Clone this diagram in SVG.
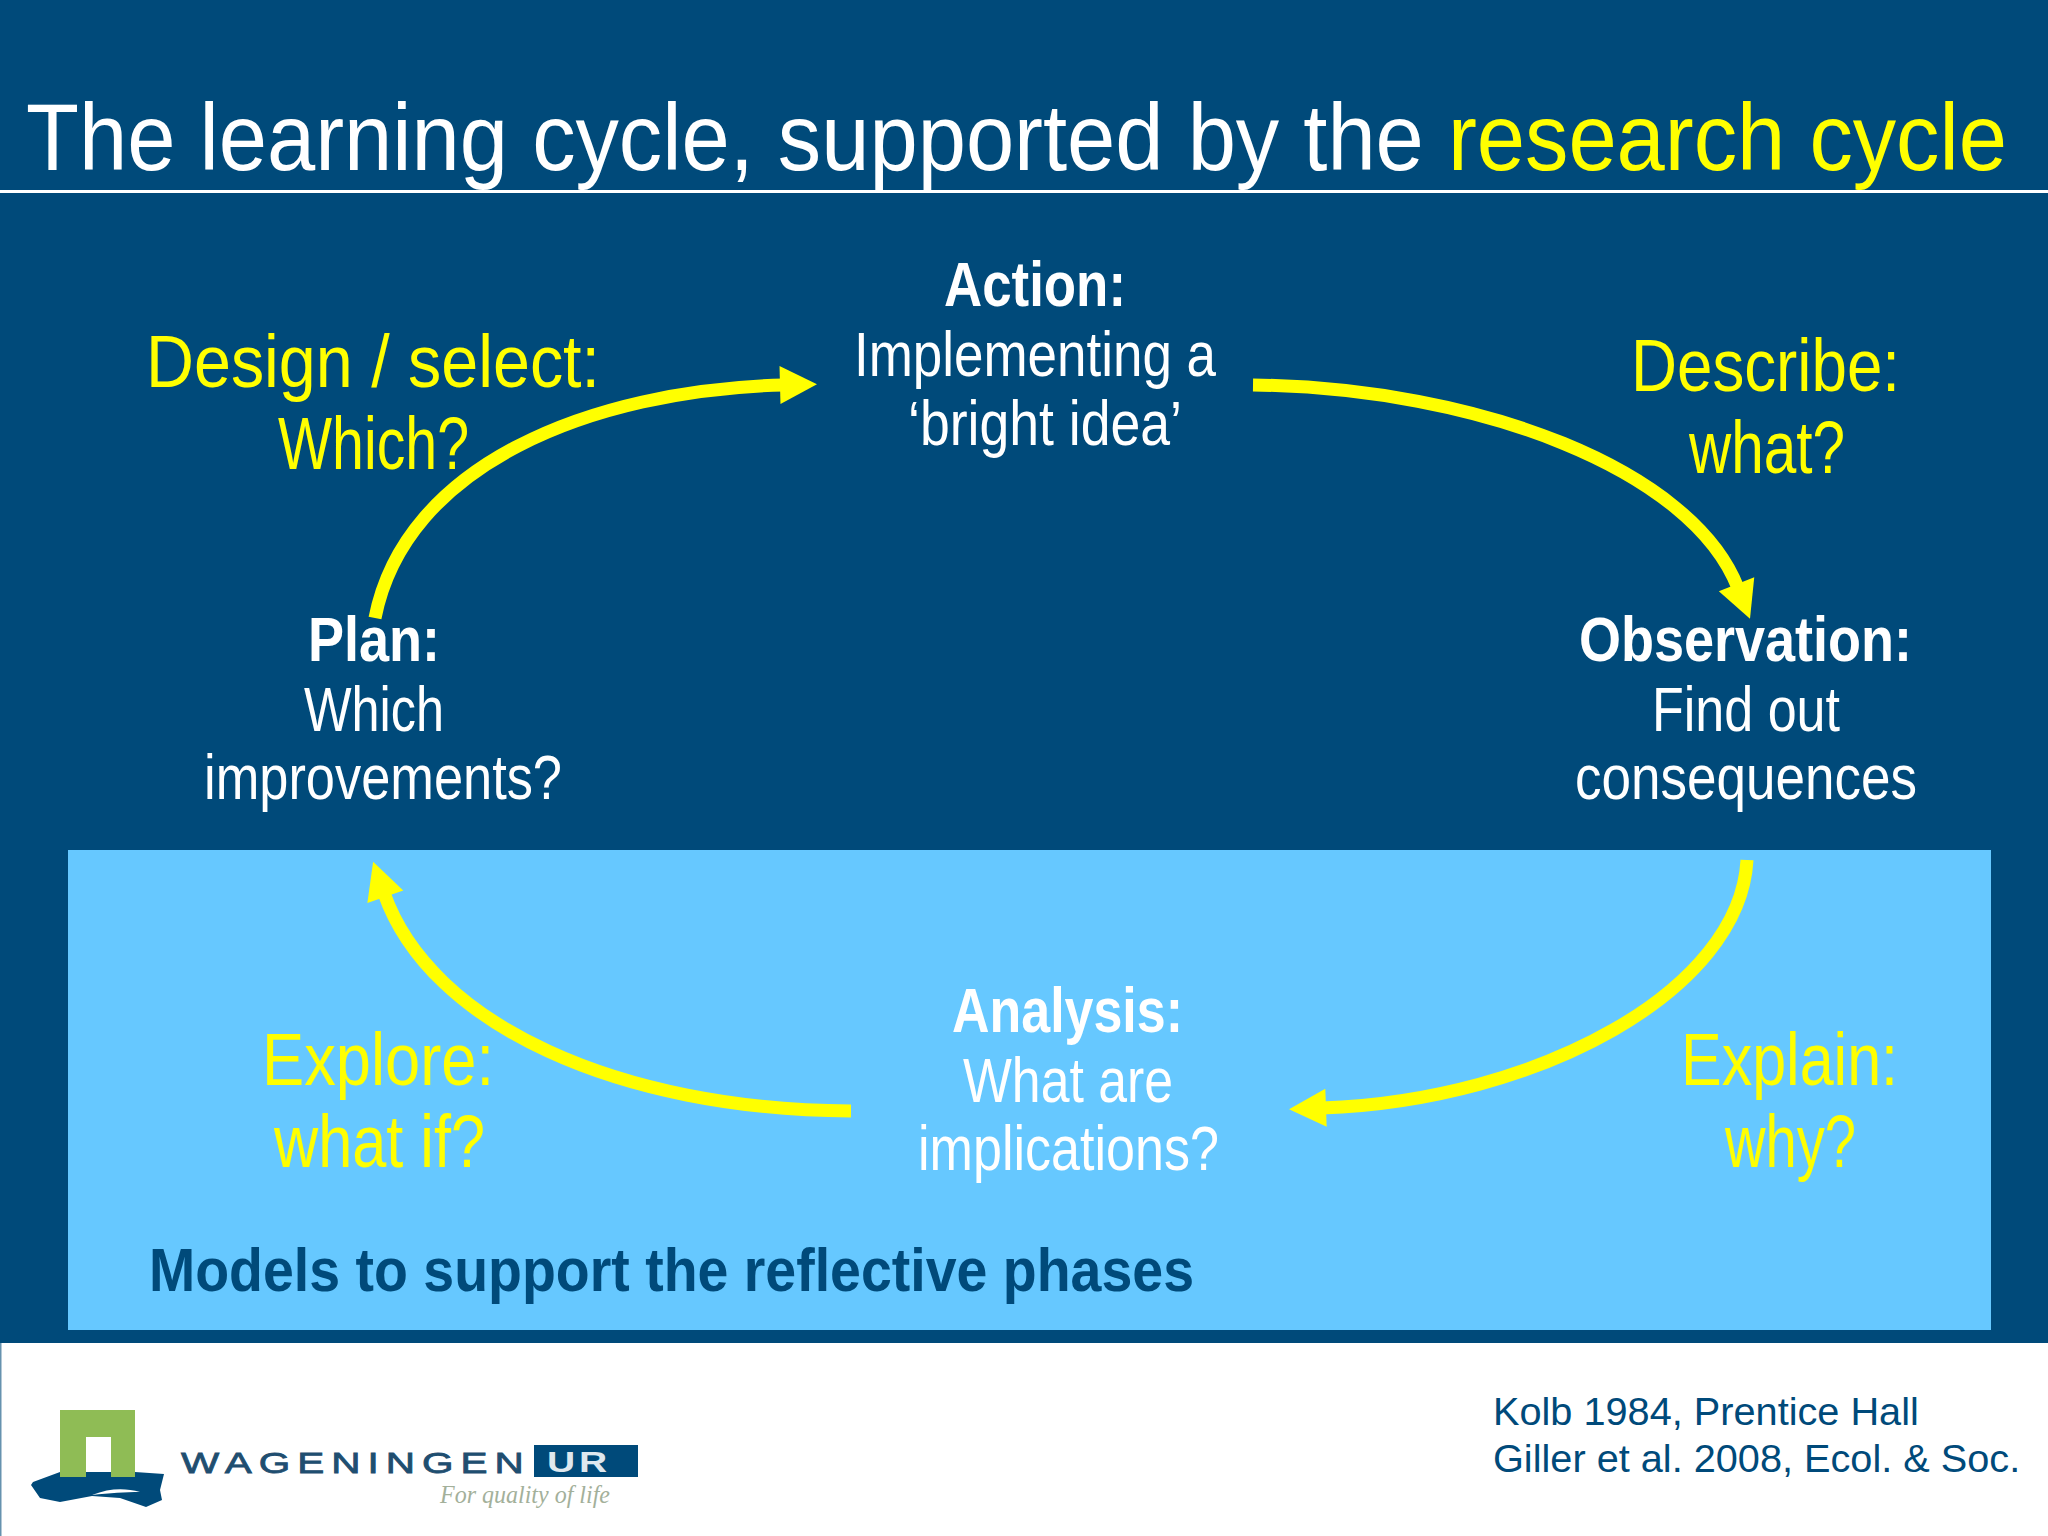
<svg xmlns="http://www.w3.org/2000/svg" width="2048" height="1536" viewBox="0 0 2048 1536">
<style>
text{font-family:"Liberation Sans",Arial,sans-serif}
.w{fill:#fff;font-size:63px}
.b{font-weight:700}
.y{fill:#ffff00;font-size:75px}
.a{fill:none;stroke:#ffff00;stroke-width:13}
</style>
<defs><marker id="h" markerUnits="userSpaceOnUse" markerWidth="40" markerHeight="40" refX="4" refY="19" orient="auto" overflow="visible"><path d="M0 0L37 19L0 38Z" fill="#ffff00"/></marker></defs>
<rect width="2048" height="1536" fill="#004a7a"/>
<rect x="0" y="190" width="2048" height="3" fill="#fff"/>
<rect x="68" y="850" width="1923" height="480" fill="#66c8ff"/>
<rect x="0" y="1343" width="2048" height="193" fill="#fff"/>
<rect x="0" y="1343" width="1.5" height="193" fill="#004a7a" opacity=".6"/>
<text transform="translate(26 170) scale(.9226 1)" font-size="94" fill="#fff">The learning cycle, supported by the <tspan fill="#ffff00">research cycle</tspan></text>
<g id="connectors">
<path class="a" marker-end="url(#h)" d="M375 618C405 465 590 390 784 385"/>
<path class="a" marker-end="url(#h)" d="M1253 385C1480 388 1692 470 1738 588"/>
<path class="a" marker-end="url(#h)" d="M1747 860C1740 990 1540 1100 1322 1108"/>
<path class="a" marker-end="url(#h)" d="M851 1111C620 1110 430 1025 384 893"/>
</g>
<g id="action"><text class="w b" x="944" y="306" textLength="182" lengthAdjust="spacingAndGlyphs">Action:</text><text class="w" x="854" y="376" textLength="362" lengthAdjust="spacingAndGlyphs">Implementing a</text><text class="w" x="908" y="445" textLength="274" lengthAdjust="spacingAndGlyphs">‘bright idea’</text></g>
<g id="plan"><text class="w b" x="308" y="661" textLength="132" lengthAdjust="spacingAndGlyphs">Plan:</text><text class="w" x="304" y="731" textLength="140" lengthAdjust="spacingAndGlyphs">Which</text><text class="w" x="204" y="799" textLength="358" lengthAdjust="spacingAndGlyphs">improvements?</text></g>
<g id="observation"><text class="w b" x="1579" y="661" textLength="333" lengthAdjust="spacingAndGlyphs">Observation:</text><text class="w" x="1652" y="731" textLength="188" lengthAdjust="spacingAndGlyphs">Find out</text><text class="w" x="1575" y="799" textLength="342" lengthAdjust="spacingAndGlyphs">consequences</text></g>
<g id="analysis"><text class="w b" x="952" y="1032" textLength="231" lengthAdjust="spacingAndGlyphs">Analysis:</text><text class="w" x="963" y="1102" textLength="210" lengthAdjust="spacingAndGlyphs">What are</text><text class="w" x="918" y="1170" textLength="301" lengthAdjust="spacingAndGlyphs">implications?</text></g>
<g id="design"><text class="y" x="146" y="387" textLength="454" lengthAdjust="spacingAndGlyphs">Design / select:</text><text class="y" x="278" y="469" textLength="191" lengthAdjust="spacingAndGlyphs">Which?</text></g>
<g id="describe"><text class="y" x="1631" y="391" textLength="269" lengthAdjust="spacingAndGlyphs">Describe:</text><text class="y" x="1689" y="473" textLength="156" lengthAdjust="spacingAndGlyphs">what?</text></g>
<g id="explore"><text class="y" x="262" y="1085" textLength="232" lengthAdjust="spacingAndGlyphs">Explore:</text><text class="y" x="274" y="1167" textLength="211" lengthAdjust="spacingAndGlyphs">what if?</text></g>
<g id="explain"><text class="y" x="1681" y="1085" textLength="217" lengthAdjust="spacingAndGlyphs">Explain:</text><text class="y" x="1725" y="1167" textLength="131" lengthAdjust="spacingAndGlyphs">why?</text></g>
<text class="b" x="149" y="1291" font-size="62" textLength="1045" lengthAdjust="spacingAndGlyphs" fill="#004a7a">Models to support the reflective phases</text>
<g font-size="39.7" fill="#004a7a"><text x="1493" y="1425">Kolb 1984, Prentice Hall</text><text x="1493" y="1472">Giller et al. 2008, Ecol. &amp; Soc.</text></g>
<g id="logo">
<path d="M33 1482L60 1472H135L164 1474L160 1490L162 1500L146 1507L120 1498L92 1496L60 1502L40 1498L31 1485Z" fill="#004a7a"/>
<path d="M92 1495C110 1488 125 1488 140 1492C125 1492 110 1493 92 1495Z" fill="#fff"/>
<path d="M60 1410H135V1477H111V1437H86V1477H60Z" fill="#8fbc55"/>
<text transform="translate(181 1473) scale(1.35 1)" font-size="30" letter-spacing="5.2" fill="#1f4e70" stroke="#1f4e70" stroke-width=".8">WAGENINGEN</text>
<rect x="534" y="1445" width="104" height="32" fill="#004a7a"/>
<text transform="translate(547 1472) scale(1.3 1)" font-size="30" font-weight="700" letter-spacing="3" fill="#dfe8ee">UR</text>
<text x="440" y="1503" font-size="26" font-style="italic" textLength="170" lengthAdjust="spacingAndGlyphs" fill="#a3b09a" style="font-family:'Liberation Serif',serif">For quality of life</text>
</g>
</svg>
